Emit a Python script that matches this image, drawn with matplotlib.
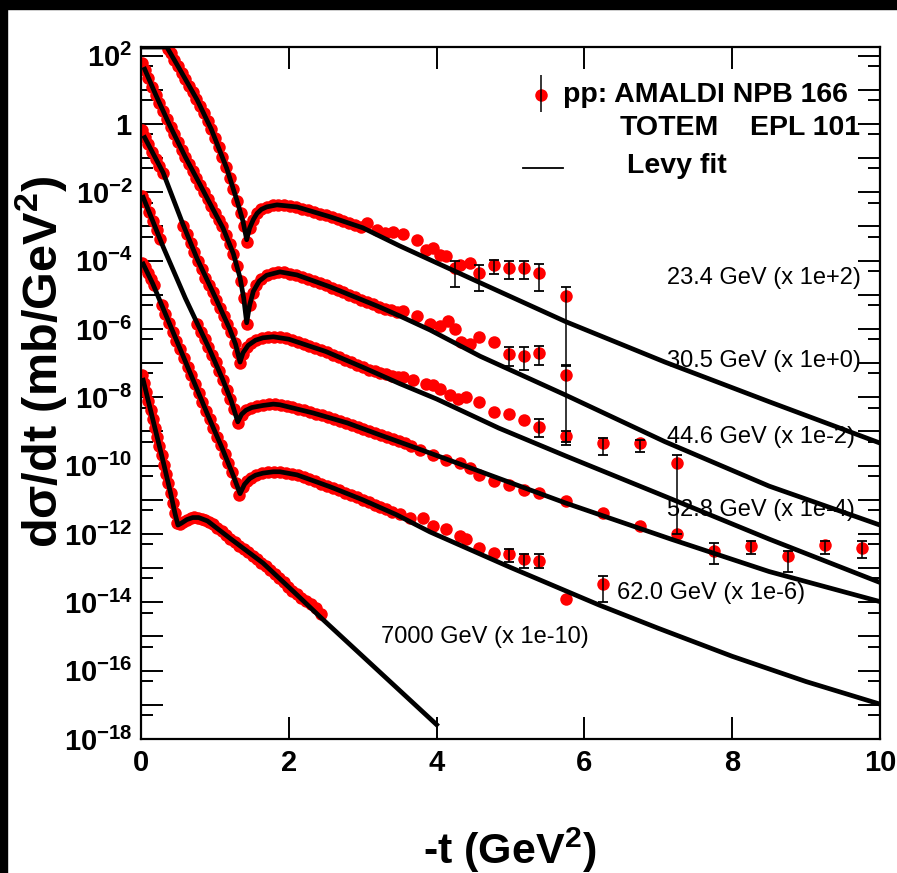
import numpy as np
import matplotlib
matplotlib.use("Agg")
import matplotlib.pyplot as plt
from matplotlib.ticker import FixedLocator, FuncFormatter
from matplotlib.patches import Rectangle

plt.rcParams["font.family"] = ["Liberation Sans", "DejaVu Sans"]
plt.rcParams["mathtext.fontset"] = "custom"
plt.rcParams["mathtext.rm"] = "Liberation Sans"
plt.rcParams["mathtext.bf"] = "Liberation Sans:bold"

# values are log10(dsigma/dt), t in GeV^2

# 23.4 GeV (x 1e+2)
a_fit_t = [0.03, 0.2, 0.35, 0.55, 0.76, 0.95, 1.16, 1.3, 1.38, 1.43, 1.47, 1.52, 1.57, 1.63, 1.7, 1.84,
           2.11, 2.56, 3.0, 3.5, 4.59, 5.75, 7.09, 8.5, 10.0]
a_fit_lg = [3.75, 2.95, 2.25, 1.5, 0.7, -0.15, -1.3, -2.25, -2.85, -3.39, -3.05, -2.8, -2.62, -2.5, -2.43, -2.37,
            -2.43, -2.72, -3.04, -3.57, -4.65, -5.79, -6.97, -8.13, -9.34]
a_pts_t = [0.36, 0.40, 0.45, 0.50, 0.55, 0.60, 0.65, 0.70, 0.75, 0.80, 0.85, 0.90, 0.95, 1.00, 1.05, 1.10,
           1.15, 1.20, 1.25, 1.30, 1.35, 1.40, 1.44, 1.48, 1.52, 1.57, 1.63, 1.70, 1.78, 1.86, 1.94, 2.02,
           2.10, 2.18, 2.26, 2.34, 2.42, 2.50, 2.58, 2.66, 2.74, 2.82, 2.90, 2.98,
           3.06, 3.20, 3.30, 3.41, 3.55, 3.73, 3.86, 3.95, 4.05, 4.13, 4.25, 4.32, 4.45, 4.57, 4.78,
           4.98, 5.18, 5.39, 5.75]
a_pts_lg = [2.2, 2.06, 1.88, 1.69, 1.5, 1.31, 1.12, 0.93, 0.74, 0.53, 0.31, 0.08, -0.15, -0.41, -0.69, -0.97,
            -1.25, -1.57, -1.9, -2.25, -2.62, -3.0, -3.45, -3.05, -2.8, -2.6, -2.5, -2.43, -2.38, -2.37, -2.38, -2.4,
            -2.43, -2.48, -2.53, -2.58, -2.63, -2.68, -2.73, -2.79, -2.84, -2.89, -2.95, -3.01,
            -2.9, -3.1, -3.2, -3.16, -3.22, -3.39, -3.69, -3.63, -3.83, -3.86, -4.21, -4.13, -4.07, -4.36, -4.13,
            -4.21, -4.21, -4.36, -5.03]
a_err_t = [4.25, 4.57, 4.78, 4.98, 5.18, 5.39, 5.75]
a_err_lo = [-4.77, -4.89, -4.39, -4.54, -4.54, -4.89, -7.08]
a_err_hi = [-4.01, -4.13, -3.98, -4.01, -4.01, -4.10, -4.77]

# 30.5 GeV (x 1e+0)
b_fit_t = [0.05, 0.2, 0.39, 0.6, 0.78, 0.95, 1.11, 1.25, 1.34, 1.39, 1.43, 1.47, 1.52, 1.6, 1.7, 1.88,
           2.11, 2.56, 3.23, 3.5, 3.91, 4.59, 5.74, 7.09, 8.5, 10.0]
b_fit_lg = [1.6, 0.85, -0.05, -0.97, -1.7, -2.4, -3.05, -3.8, -4.5, -5.1, -5.82, -5.3, -4.9, -4.6, -4.43, -4.33,
            -4.42, -4.77, -5.36, -5.62, -6.03, -6.8, -7.93, -9.3, -10.6, -11.74]
b_pts_t = [0.01, 0.05, 0.10, 0.15, 0.20, 0.25, 0.30, 0.35, 0.40, 0.45, 0.50, 0.55, 0.60, 0.65, 0.70, 0.75,
           0.80, 0.85, 0.90, 0.95, 1.00, 1.05, 1.10, 1.15, 1.20, 1.25, 1.30, 1.35, 1.39, 1.43, 1.47, 1.51,
           1.56, 1.62, 1.70, 1.78, 1.86, 1.94, 2.02, 2.10, 2.18, 2.26, 2.34, 2.42, 2.50, 2.58, 2.66, 2.74,
           2.82, 2.90, 2.98, 3.06, 3.14, 3.22, 3.30, 3.38, 3.46,
           3.55, 3.73, 3.91, 4.05, 4.15, 4.25, 4.33, 4.45, 4.57, 4.78, 4.98, 5.18, 5.39, 5.75]
b_pts_lg = [1.79, 1.58, 1.33, 1.09, 0.85, 0.61, 0.38, 0.14, -0.09, -0.31, -0.53, -0.75, -0.97, -1.17, -1.37, -1.57,
            -1.78, -1.99, -2.19, -2.4, -2.6, -2.8, -3.0, -3.25, -3.52, -3.8, -4.15, -4.6, -5.1, -5.85, -5.3, -4.95,
            -4.72, -4.55, -4.43, -4.37, -4.33, -4.34, -4.38, -4.42, -4.47, -4.53, -4.59, -4.66, -4.72, -4.79, -4.86, -4.93,
            -5.0, -5.07, -5.14, -5.21, -5.28, -5.35, -5.41, -5.45, -5.5,
            -5.47, -5.62, -5.85, -5.91, -5.77, -6.0, -6.38, -6.44, -6.23, -6.38, -6.73, -6.79, -6.70, -7.35]
b_err_t = [4.98, 5.18, 5.39, 5.75]
b_err_lo = [-7.08, -7.2, -7.05, -9.39]
b_err_hi = [-6.53, -6.53, -6.5, -7.06]

# 44.6 GeV (x 1e-2)
c_fit_t = [0.05, 0.3, 0.57, 0.76, 1.0, 1.2, 1.28, 1.34, 1.38, 1.45, 1.55, 1.65, 1.79, 2.0, 2.5, 3.0, 3.5,
           4.0, 4.84, 5.75, 7.0, 8.5, 10.0]
c_fit_lg = [-0.4, -1.43, -2.95, -3.95, -5.05, -6.0, -6.45, -6.97, -6.7, -6.48, -6.33, -6.26, -6.23, -6.3, -6.66,
            -7.12, -7.6, -8.05, -8.9, -9.72, -10.82, -12.15, -13.42]
c_pts_t = [0.01, 0.05, 0.10, 0.15, 0.20, 0.25, 0.30,
           0.57, 0.62, 0.67, 0.72, 0.77, 0.82, 0.87, 0.92, 0.97, 1.02, 1.07, 1.12, 1.17, 1.22, 1.27, 1.31,
           1.34, 1.38, 1.43, 1.49, 1.56, 1.64, 1.72, 1.80, 1.88, 1.96, 2.04, 2.12, 2.20, 2.28, 2.36, 2.44,
           2.52, 2.60, 2.68, 2.76, 2.84, 2.92, 3.00, 3.08, 3.16, 3.24, 3.32, 3.40, 3.48,
           3.55, 3.68, 3.86, 3.95, 4.05, 4.18, 4.29, 4.40, 4.57, 4.78, 4.98, 5.18, 5.39, 5.75,
           6.25, 6.75, 7.25]
c_pts_lg = [-0.18, -0.38, -0.6, -0.82, -1.03, -1.22, -1.43,
            -2.98, -3.23, -3.5, -3.75, -4.0, -4.25, -4.5, -4.7, -4.92, -5.15, -5.38, -5.62, -5.85, -6.1, -6.4, -6.7,
            -7.0, -6.72, -6.52, -6.4, -6.32, -6.27, -6.24, -6.23, -6.25, -6.28, -6.32, -6.37, -6.43, -6.5, -6.56, -6.62,
            -6.68, -6.75, -6.82, -6.9, -6.97, -7.05, -7.12, -7.19, -7.24, -7.29, -7.33, -7.37, -7.4,
            -7.40, -7.49, -7.61, -7.64, -7.76, -7.93, -8.05, -7.99, -8.14, -8.43, -8.49, -8.66, -8.87, -9.13,
            -9.34, -9.34, -9.92]
c_err_t = [5.39, 5.75, 6.25, 6.75, 7.25]
c_err_lo = [-9.16, -9.3, -9.69, -9.6, -12.0]
c_err_hi = [-8.63, -9.0, -9.2, -9.25, -9.69]

# 52.8 GeV (x 1e-4)
d_fit_t = [0.03, 0.3, 0.6, 0.93, 1.1, 1.22, 1.31, 1.36, 1.42, 1.5, 1.65, 1.79, 1.88, 2.33, 2.79, 3.23, 3.68,
           4.5, 5.74, 7.17, 8.5, 10.0]
d_fit_lg = [-2.15, -3.6, -5.1, -6.61, -7.45, -8.1, -8.72, -8.5, -8.38, -8.3, -8.24, -8.2, -8.22, -8.46, -8.75,
            -9.1, -9.45, -10.1, -11.09, -12.15, -13.1, -13.98]
d_pts_t = [0.02, 0.06, 0.11, 0.16, 0.21, 0.26,
           0.76, 0.81, 0.86, 0.91, 0.96, 1.01, 1.06, 1.11, 1.16, 1.21, 1.26, 1.31, 1.36, 1.42, 1.49, 1.57,
           1.65, 1.73, 1.81, 1.89, 1.97, 2.05, 2.13, 2.21, 2.29, 2.37, 2.45, 2.53, 2.61, 2.69, 2.77, 2.85,
           2.93, 3.01, 3.09, 3.17, 3.25, 3.33, 3.41, 3.49, 3.57, 3.65,
           3.78, 3.95, 4.13, 4.32, 4.45, 4.57, 4.78, 4.98, 5.18, 5.39, 5.75, 6.25, 6.75, 7.25,
           7.75, 8.25, 8.75, 9.25, 9.75]
d_pts_lg = [-2.1, -2.3, -2.57, -2.84, -3.1, -3.37,
            -5.85, -6.1, -6.3, -6.52, -6.75, -6.98, -7.22, -7.5, -7.78, -8.05, -8.35, -8.75, -8.52, -8.38, -8.3, -8.26,
            -8.24, -8.21, -8.2, -8.22, -8.25, -8.29, -8.33, -8.38, -8.43, -8.48, -8.53, -8.58, -8.63, -8.68, -8.74, -8.8,
            -8.86, -8.92, -8.98, -9.04, -9.1, -9.16, -9.22, -9.28, -9.35, -9.42,
            -9.54, -9.69, -9.83, -9.92, -10.07, -10.27, -10.45, -10.56, -10.71, -10.8, -11.03, -11.38, -11.76, -12.0,
            -12.5, -12.35, -12.64, -12.32, -12.41]
d_err_t = [7.75, 8.25, 8.75, 9.25, 9.75]
d_err_lo = [-12.88, -12.58, -13.1, -12.58, -12.7]
d_err_hi = [-12.26, -12.2, -12.5, -12.2, -12.2]

# 62.0 GeV (x 1e-6)
e_fit_t = [0.03, 0.16, 0.28, 0.6, 0.9, 1.1, 1.25, 1.34, 1.4, 1.47, 1.55, 1.65, 1.79, 1.88, 2.11, 2.56, 3.0,
           3.46, 3.91, 5.0, 6.2, 7.0, 8.0, 9.0, 10.0]
e_fit_lg = [-4.1, -4.68, -5.3, -6.95, -8.5, -9.5, -10.3, -10.82, -10.55, -10.38, -10.28, -10.22, -10.18, -10.18,
            -10.27, -10.62, -11.0, -11.44, -11.94, -12.98, -14.08, -14.76, -15.58, -16.32, -16.98]
e_pts_t = [0.01, 0.05, 0.09, 0.13, 0.17,
           0.28, 0.33, 0.38, 0.43, 0.48, 0.53, 0.58, 0.63, 0.68, 0.73, 0.78, 0.83, 0.88, 0.93, 0.98, 1.03,
           1.08, 1.13, 1.18, 1.23, 1.28, 1.33, 1.38, 1.43, 1.49, 1.56, 1.64, 1.72, 1.80, 1.88, 1.96, 2.04,
           2.12, 2.20, 2.28, 2.36, 2.44, 2.52, 2.60, 2.68, 2.76, 2.84, 2.92, 3.00, 3.08, 3.16, 3.24, 3.32, 3.40,
           3.50, 3.64, 3.82, 3.95, 4.13, 4.32, 4.40, 4.57, 4.78, 4.98, 5.18, 5.39, 5.75, 6.25]
e_pts_lg = [-4.07, -4.2, -4.37, -4.55, -4.72,
            -5.3, -5.56, -5.82, -6.08, -6.34, -6.6, -6.85, -7.1, -7.36, -7.62, -7.88, -8.14, -8.4, -8.65, -8.9, -9.15,
            -9.4, -9.65, -9.92, -10.2, -10.5, -10.85, -10.62, -10.45, -10.35, -10.27, -10.22, -10.19, -10.18, -10.18,
            -10.21, -10.24,
            -10.28, -10.34, -10.4, -10.46, -10.53, -10.59, -10.65, -10.72, -10.79, -10.86, -10.93, -11.0, -11.07,
            -11.14, -11.21, -11.28, -11.35,
            -11.41, -11.53, -11.53, -11.76, -11.85, -12.06, -12.15, -12.41, -12.55, -12.58, -12.73, -12.79, -13.9,
            -13.46]
e_err_t = [4.98, 5.18, 5.39, 6.25]
e_err_lo = [-12.82, -13.0, -13.0, -13.99]
e_err_hi = [-12.44, -12.6, -12.6, -13.23]

# 7000 GeV (x 1e-10)
f_fit_t = [0.03, 0.1, 0.2, 0.3, 0.4, 0.46, 0.5, 0.55, 0.62, 0.7, 0.78, 0.9, 1.2, 1.65, 2.11, 2.46, 3.0, 3.5, 4.0]
f_fit_lg = [-7.5, -8.12, -9.0, -9.88, -10.8, -11.4, -11.74, -11.68, -11.58, -11.52, -11.52, -11.62, -12.12,
            -12.85, -13.78, -14.5, -15.58, -16.58, -17.58]
f_pts_t = [0.01, 0.04, 0.07, 0.10, 0.13, 0.16, 0.19, 0.22, 0.25, 0.28, 0.31, 0.34, 0.37, 0.40, 0.43, 0.46,
           0.49, 0.53, 0.57, 0.62, 0.67, 0.72, 0.77, 0.82, 0.87, 0.92, 0.97, 1.03, 1.09, 1.15, 1.21, 1.27,
           1.33, 1.39, 1.45, 1.51, 1.57, 1.63, 1.69, 1.75, 1.81, 1.87, 1.93, 1.99, 2.05, 2.11, 2.17, 2.23,
           2.30, 2.37, 2.44]
f_pts_lg = [-7.35, -7.58, -7.85, -8.12, -8.38, -8.65, -8.91, -9.17, -9.44, -9.7, -9.97, -10.24, -10.52, -10.8,
            -11.1, -11.4, -11.68, -11.72, -11.65, -11.58, -11.53, -11.51, -11.52, -11.55, -11.6, -11.65, -11.72,
            -11.82, -11.92, -12.03, -12.14, -12.24, -12.34, -12.44, -12.54, -12.64, -12.74, -12.84, -12.95,
            -13.06, -13.18, -13.3, -13.42, -13.54, -13.66, -13.76, -13.86, -13.95, -14.05, -14.18, -14.35]

series = [
    (a_fit_t, a_fit_lg, a_pts_t, a_pts_lg, a_err_t, a_err_lo, a_err_hi),
    (b_fit_t, b_fit_lg, b_pts_t, b_pts_lg, b_err_t, b_err_lo, b_err_hi),
    (c_fit_t, c_fit_lg, c_pts_t, c_pts_lg, c_err_t, c_err_lo, c_err_hi),
    (d_fit_t, d_fit_lg, d_pts_t, d_pts_lg, d_err_t, d_err_lo, d_err_hi),
    (e_fit_t, e_fit_lg, e_pts_t, e_pts_lg, e_err_t, e_err_lo, e_err_hi),
    (f_fit_t, f_fit_lg, f_pts_t, f_pts_lg, [], [], []),
]

labels = ["23.4 GeV (x 1e+2)", "30.5 GeV (x 1e+0)", "44.6 GeV (x 1e-2)",
          "52.8 GeV (x 1e-4)", "62.0 GeV (x 1e-6)", "7000 GeV (x 1e-10)"]

ymin, ymax = 1e-18, 10 ** 2.25

fig = plt.figure(figsize=(8.97, 8.73), dpi=100)
ax = fig.add_axes([141 / 897, 1 - 739 / 873, 739 / 897, 692 / 873])

for fit_t, fit_lg, pts_t, pts_lg, err_t, err_lo, err_hi in series:
    ax.plot(pts_t, 10.0 ** np.array(pts_lg), "o", color="#ff0000", ms=9, mec="none", zorder=2)
    if err_t:
        ax.vlines(err_t, 10.0 ** np.array(err_lo), 10.0 ** np.array(err_hi), color="black", lw=1.1, zorder=2.5)
        ax.plot(err_t, 10.0 ** np.array(err_lo), "_", color="black", ms=7, mew=1.3, zorder=2.5)
        ax.plot(err_t, 10.0 ** np.array(err_hi), "_", color="black", ms=7, mew=1.3, zorder=2.5)
    # ROOT draws the part above the frame along the frame edge
    fit_y = np.minimum(10.0 ** np.array(fit_lg), ymax * 0.995)
    ax.plot(fit_t, fit_y, "-", color="black", lw=3.4, solid_joinstyle="round", zorder=3)

ax.set_yscale("log")
ax.set_xlim(0, 10)
ax.set_ylim(ymin, ymax)

ax.set_xticks(range(0, 11, 2))
ax.xaxis.set_major_formatter(FuncFormatter(lambda v, p: "%d" % v))
ax.yaxis.set_major_locator(FixedLocator([10.0 ** k for k in range(-18, 3)]))
ax.yaxis.set_minor_locator(FixedLocator([5 * 10.0 ** k for k in range(-19, 2)]))


def ylab(v, pos):
    k = int(round(np.log10(v)))
    if k % 2:
        return ""
    if k == 0:
        return r"$\mathbf{1}$"
    return r"$\mathbf{10^{%d}}$" % k


ax.yaxis.set_major_formatter(FuncFormatter(ylab))
ax.yaxis.set_minor_formatter(FuncFormatter(lambda v, p: ""))
ax.tick_params(which="major", direction="in", length=16, width=1.4, top=True, right=True, pad=7)
ax.tick_params(which="minor", direction="in", length=8.5, width=1.4, top=True, right=True)
ax.tick_params(axis="x", labelsize=21)
ax.tick_params(axis="y", labelsize=21, pad=6)
for lab in ax.get_xticklabels():
    lab.set_fontweight("bold")
for sp in ax.spines.values():
    sp.set_linewidth(1.6)

for (x, lg), txt in zip([(7.12, -4.51), (7.12, -6.94), (7.12, -9.16), (7.12, -11.3), (6.44, -13.73), (3.25, -15.01)],
                        labels):
    ax.text(x, 10 ** lg, txt, fontsize=17, ha="left", va="center", zorder=4)

# legend
ax.plot([5.41], [10 ** 0.85], "o", color="#ff0000", ms=9, mec="none", clip_on=False)
ax.vlines([5.41], 10 ** 0.35, 10 ** 1.43, color="black", lw=1.1)
ax.text(5.71, 10 ** 0.85, "pp: AMALDI NPB 166", fontsize=20.5, fontweight="bold", ha="left", va="center")
ax.text(6.48, 10 ** -0.12, "TOTEM", fontsize=20.5, fontweight="bold", ha="left", va="center")
ax.text(8.24, 10 ** -0.12, "EPL 101", fontsize=20.5, fontweight="bold", ha="left", va="center")
ax.plot([5.17, 5.71], [10 ** -1.29, 10 ** -1.29], "-", color="black", lw=1.3)
ax.text(6.58, 10 ** -1.23, "Levy fit", fontsize=20.5, fontweight="bold", ha="left", va="center")

fig.text(510 / 897, 1 - 850 / 873, "-t (GeV$^{\\mathbf{2}}$)", fontsize=31, fontweight="bold",
         ha="center", va="center")
fig.text(42 / 897, 1 - 362 / 873, "d\u03c3/dt (mb/GeV$^{\\mathbf{2}}$)", fontsize=35, fontweight="bold",
         ha="center", va="center", rotation=90)

# black frame at the top and left edge of the screenshot
fig.patches.append(Rectangle((0, 1 - 9 / 873), 1, 9 / 873, transform=fig.transFigure, color="black"))
fig.patches.append(Rectangle((0, 0), 7 / 897, 1, transform=fig.transFigure, color="black"))

fig.savefig("out.png", dpi=100)
